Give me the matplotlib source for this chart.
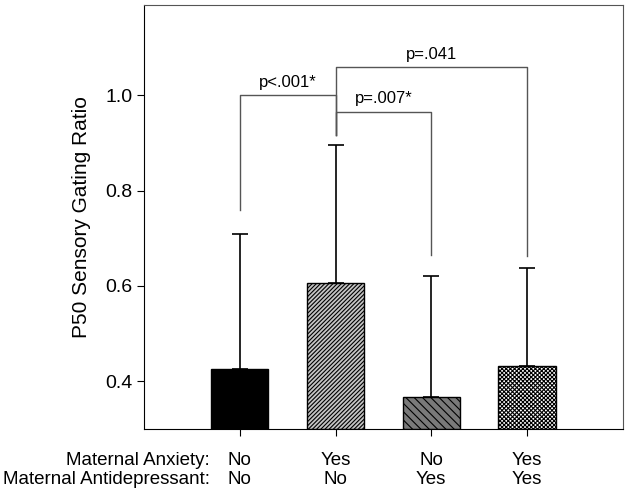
import matplotlib
matplotlib.use("Agg")
import matplotlib.pyplot as plt
import matplotlib.transforms as mtransforms

plt.rcParams['font.family'] = ['Liberation Sans', 'DejaVu Sans']
plt.rcParams['hatch.linewidth'] = 0.8

# Data
groups = [0, 1, 2, 3]
means = [0.426, 0.606, 0.366, 0.432]
err_top = [0.709, 0.895, 0.620, 0.638]
anxiety = ['No', 'Yes', 'No', 'Yes']
antidep = ['No', 'No', 'Yes', 'Yes']
colors = ['black', '#c4c4c4', '#7a7a7a', 'white']
hatches = [None, '////////', '\\\\\\\\', 'xxxxxxxx']

# significance brackets: (left bar, right bar, height, left leg bottom, right leg bottom, text)
brackets = [
    (0, 1, 1.000, 0.760, 0.916, 'p<.001*'),
    (1, 2, 0.965, 0.916, 0.666, 'p=.007*'),
    (1, 3, 1.059, 0.916, 0.664, 'p=.041'),
]

fig = plt.figure(figsize=(6.29, 4.93), dpi=100)
ax = fig.add_axes([0.229, 0.130, 0.761, 0.860])

base = 0.3
for x, m, c, h in zip(groups, means, colors, hatches):
    ax.bar(x, m - base, bottom=base, width=0.6, color=c, edgecolor='black',
           hatch=h, linewidth=1, zorder=2)

up = [t - m for t, m in zip(err_top, means)]
ax.errorbar(groups, means, yerr=[[0] * len(means), up], fmt='none',
            ecolor='black', elinewidth=1.2, capsize=5.5, capthick=1.2, zorder=3)

line_kw = dict(color='#555555', lw=1, zorder=1)
for x0, x1, h, b0, b1, txt in brackets:
    ax.plot([x0, x0, x1, x1], [b0, h, h, b1], **line_kw)
    ax.text((x0 + x1) / 2, h + 0.012, txt, ha='center', va='bottom', fontsize=12)

ax.set_xlim(-1, 4)
ax.set_ylim(0.3, 1.19)
ax.set_yticks([0.4, 0.6, 0.8, 1.0])
ax.set_yticklabels(['0.4', '0.6', '0.8', '1.0'])
ax.set_xticks(groups)
ax.set_xticklabels([])
ax.tick_params(axis='both', direction='out', length=5, labelsize=14)
ax.set_ylabel('P50 Sensory Gating Ratio', fontsize=15, labelpad=10)

for s in ['top', 'right']:
    ax.spines[s].set_color('#555555')
for s in ['left', 'bottom']:
    ax.spines[s].set_color('black')

trans = mtransforms.blended_transform_factory(ax.transData, ax.transAxes)
row_y = [-0.085, -0.130]
ax.text(-0.31, row_y[0], 'Maternal Anxiety:', transform=trans, ha='right',
        va='baseline', fontsize=13.5)
ax.text(-0.31, row_y[1], 'Maternal Antidepressant:', transform=trans, ha='right',
        va='baseline', fontsize=13.5)
for x, a, d in zip(groups, anxiety, antidep):
    ax.text(x, row_y[0], a, transform=trans, ha='center', va='baseline', fontsize=13.5)
    ax.text(x, row_y[1], d, transform=trans, ha='center', va='baseline', fontsize=13.5)

fig.savefig('out.png', dpi=100)
